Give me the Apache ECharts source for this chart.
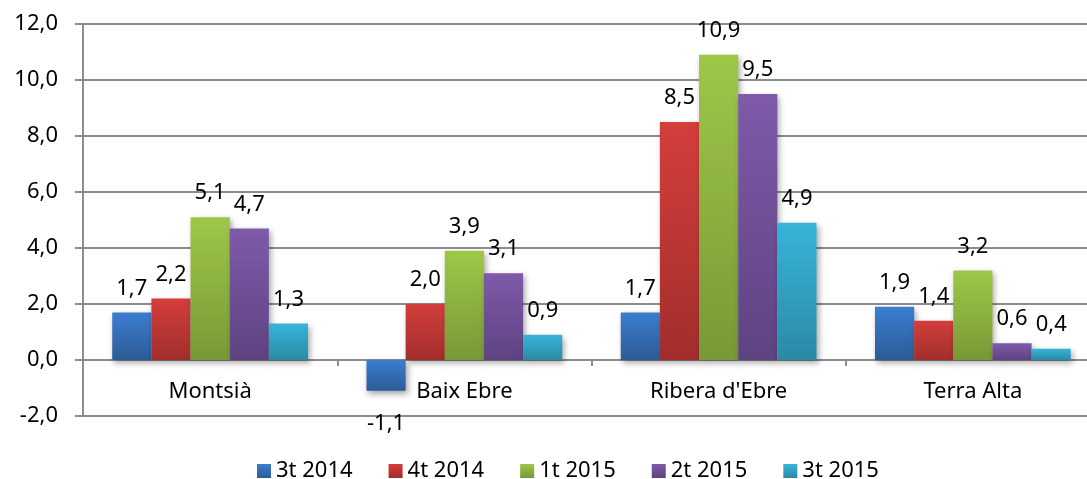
<!DOCTYPE html>
<html>
<head>
<meta charset="utf-8">
<script src="https://cdn.jsdelivr.net/npm/echarts@6/dist/echarts.min.js"></script>
<style>
html, body { margin: 0; padding: 0; background: #fff; }
#chart { width: 1087px; height: 479px; }
</style>
</head>
<body>
<div id="chart"></div>
<script>
var comarques = ['Montsià', 'Baix Ebre', "Ribera d'Ebre", 'Terra Alta'];
var trimestres = ['3t 2014', '4t 2014', '1t 2015', '2t 2015', '3t 2015'];
var t3_2014 = [1.7, -1.1, 1.7, 1.9];
var t4_2014 = [2.2, 2.0, 8.5, 1.4];
var t1_2015 = [5.1, 3.9, 10.9, 3.2];
var t2_2015 = [4.7, 3.1, 9.5, 0.6];
var t3_2015 = [1.3, 0.9, 4.9, 0.4];
var yTicks = [-2, 0, 2, 4, 6, 8, 10, 12];

var valors = [t3_2014, t4_2014, t1_2015, t2_2015, t3_2015];
// colors top -> bottom (Excel style gradient)
var colors = [
	['#3b7dd0', '#2d5c96'],
	['#d43e3b', '#a12e2c'],
	['#9ec748', '#779936'],
	['#7e5aa9', '#5e4381'],
	['#37b4d9', '#2a8aa5']
];
var font = 'Noto Sans';

var fmt = function(v) {
	return v.toFixed(1).replace('.', ',');
};

var chart = echarts.init(document.getElementById('chart'));

var series = trimestres.map(function(name, i) {
	var grad = new echarts.graphic.LinearGradient(0, 0, 0, 1, [
		{ offset: 0, color: colors[i][0] },
		{ offset: 1, color: colors[i][1] }
	]);
	return {
		name: name,
		type: 'bar',
		barGap: '0%',
		barCategoryGap: '23%',
		data: valors[i].map(function(v) {
			var item = { value: v };
			if (v < 0) {
				item.label = { position: 'bottom', distance: 22 };
			}
			return item;
		}),
		itemStyle: {
			color: grad,
			shadowBlur: 6,
			shadowOffsetX: 2,
			shadowOffsetY: 3,
			shadowColor: 'rgba(0,0,0,0.35)'
		},
		label: {
			show: true,
			position: 'top',
			distance: 13,
			fontFamily: font,
			fontSize: 22,
			color: '#000',
			formatter: function(p) { return fmt(p.value); }
		}
	};
});

chart.setOption({
	animation: false,
	textStyle: { fontFamily: font },
	legend: {
		left: 252,
		top: 455,
		itemWidth: 14,
		itemHeight: 14,
		itemGap: 36,
		icon: 'rect',
		textStyle: { fontSize: 22, color: '#000', fontFamily: font },
		data: trimestres
	},
	grid: {
		left: 83,
		top: 24,
		width: 1017,
		height: 392,
		containLabel: false,
		outerBoundsMode: 'none'
	},
	xAxis: {
		type: 'category',
		data: comarques,
		offset: -56,
		axisLine: { onZero: false, lineStyle: { color: '#8c8c8c', width: 2 } },
		axisTick: { show: true, length: 6, lineStyle: { color: '#8c8c8c', width: 2 } },
		axisLabel: { margin: 21, fontSize: 22, color: '#000', fontFamily: font }
	},
	yAxis: {
		type: 'value',
		min: yTicks[0],
		max: yTicks[yTicks.length - 1],
		interval: 2,
		axisLine: { show: true, lineStyle: { color: '#8c8c8c', width: 2 } },
		axisTick: { show: true, length: 8, lineStyle: { color: '#8c8c8c', width: 2 } },
		axisLabel: {
			margin: 25,
			fontSize: 22,
			color: '#000',
			fontFamily: font,
			formatter: function(v) { return fmt(v); }
		},
		splitLine: { show: true, lineStyle: { color: '#8c8c8c', width: 2 } }
	},
	series: series
});
</script>
</body>
</html>
